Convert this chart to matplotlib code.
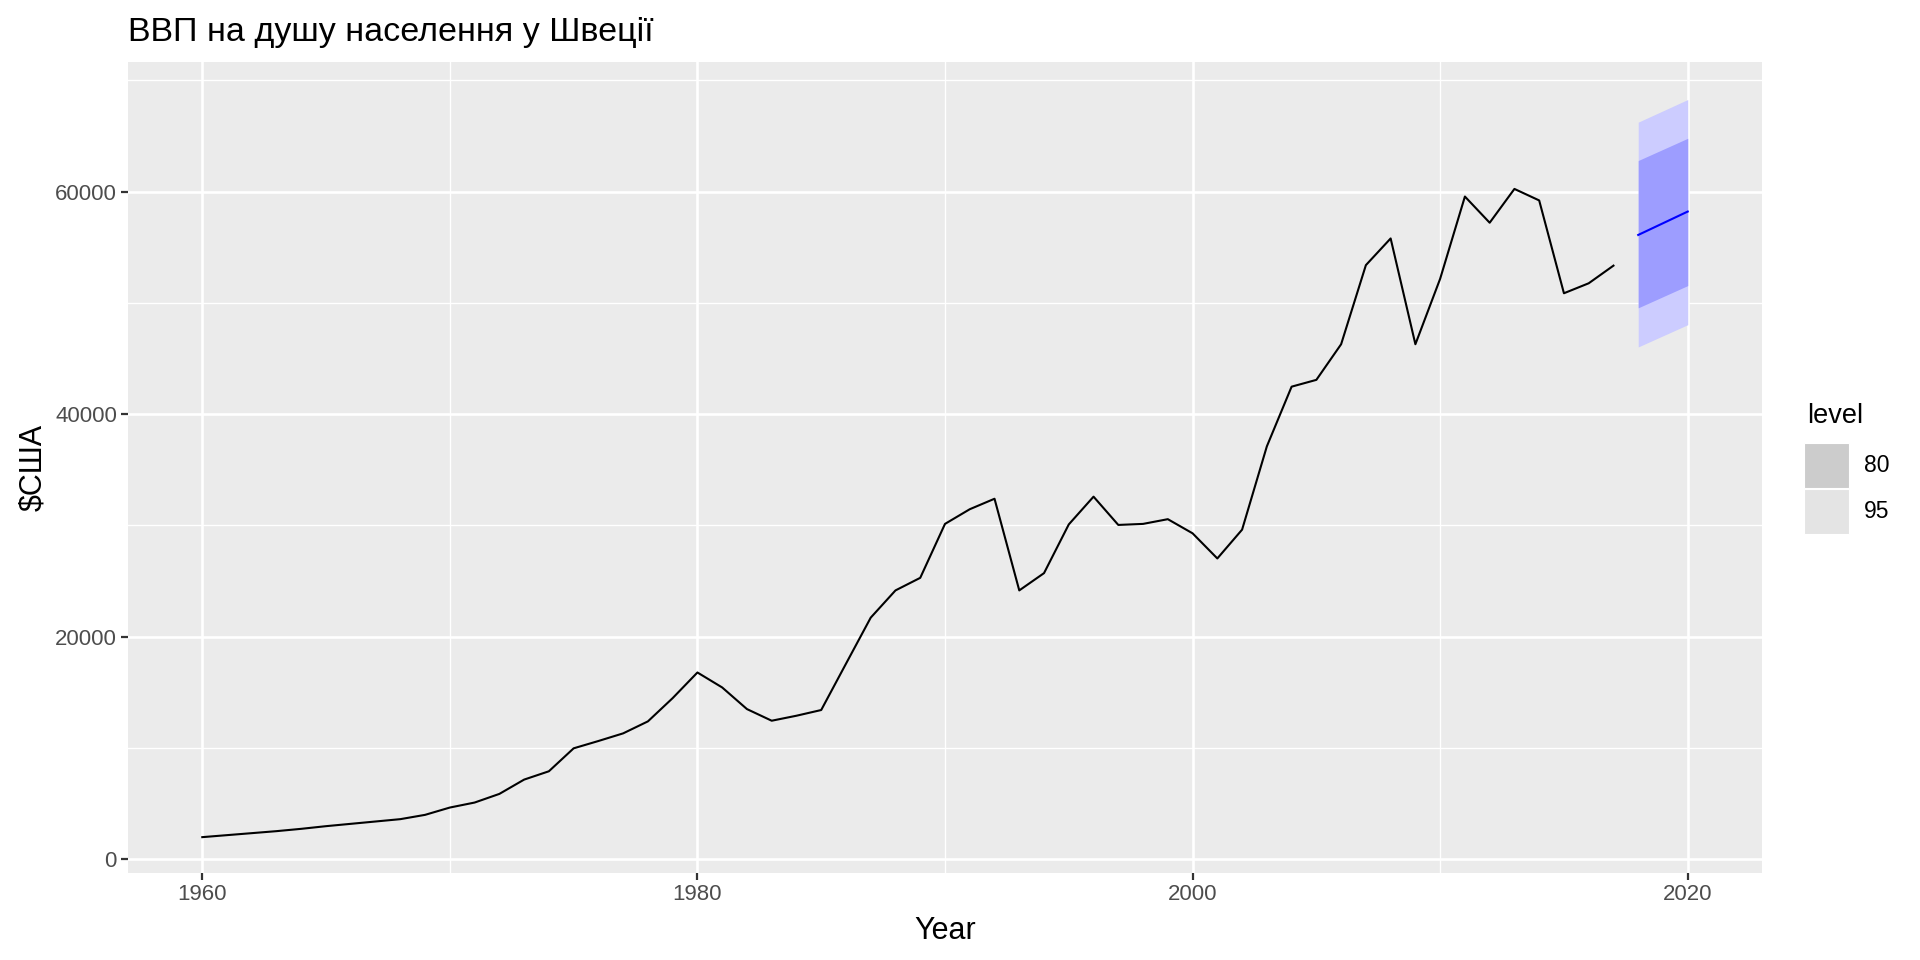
import numpy as np
import matplotlib.pyplot as plt
from matplotlib.patches import Rectangle

plt.rcParams['font.family'] = ['Liberation Sans', 'DejaVu Sans']

# GDP per capita, Sweden
years = np.arange(1960, 2018)
gdp = [1973, 2153, 2332, 2512, 2721, 2960, 3170, 3380, 3590, 3977,
       4634, 5083, 5860, 7146, 7894, 9957, 10615, 11302, 12379, 14471,
       16774, 15428, 13485, 12438, 12887, 13400, 17560, 21704, 24152, 25282,
       30131, 31449, 32391, 24152, 25706, 30084, 32579, 30037, 30131, 30555,
       29284, 27024, 29613, 37099, 42466, 43078, 46280, 53389, 55790, 46280,
       52165, 59556, 57202, 60241, 59207, 50863, 51759, 53345]

# forecast
fc_years = [2018, 2019, 2020]
fc_mean = [56104, 57155, 58207]
lo80 = [49552, 50552, 51552]
hi80 = [62793, 63793, 64793]
lo95 = [46035, 47035, 48035]
hi95 = [66241, 67258, 68276]

levels = ["80", "95"]
key_colors = ["#CCCCCC", "#E4E4E4"]

fig = plt.figure(figsize=(19.2, 9.6), dpi=100)
ax = fig.add_axes([128/1920, 1-873/960, (1762-128)/1920, (873-62)/960])
ax.set_facecolor("#EBEBEB")
for s in ax.spines.values():
    s.set_visible(False)

ax.set_xticks([1960, 1980, 2000, 2020])
ax.set_xticks([1970, 1990, 2010], minor=True)
ax.set_yticks([0, 20000, 40000, 60000])
ax.set_yticks([10000, 30000, 50000, 70000], minor=True)
ax.grid(which="major", color="white", linewidth=1.9)
ax.grid(which="minor", color="white", linewidth=0.95)
ax.set_axisbelow(True)
ax.tick_params(which="major", length=5, width=1.6, color="#333333",
               labelcolor="#4D4D4D", labelsize=16, pad=3)
ax.tick_params(which="minor", length=0)

ax.fill_between(fc_years, lo95, hi95, color="#CCCCFF", linewidth=0, zorder=2)
ax.fill_between(fc_years, lo80, hi80, color="#9D9DFF", linewidth=0, zorder=3)
ax.plot(fc_years, fc_mean, color="#0000FF", linewidth=1.5, zorder=4)
ax.plot(years, gdp, color="black", linewidth=1.5, zorder=4)

ax.set_xlim(1957, 2023)
ax.set_ylim(-1250, 71650)

ax.set_xlabel("Year", fontsize=22, labelpad=8)
ax.set_ylabel("\\$США", fontsize=22, labelpad=5)
fig.text(128/1920, 1-41/960, "ВВП на душу населення у Швеції", fontsize=24.5,
         ha="left", va="baseline")

# legend
fig.text(1807/1920, 1-416/960, "level", fontsize=19.5, ha="left", va="center")
for i, (lab, c) in enumerate(zip(levels, key_colors)):
    y0 = 443 + i*46
    fig.patches.append(Rectangle((1804/1920, 1-(y0+45)/960), 45/1920, 45/960,
                                 transform=fig.transFigure, facecolor=c,
                                 edgecolor="white", linewidth=0.8))
    fig.text(1864/1920, 1-(y0+23)/960, lab, fontsize=16.5, ha="left", va="center")

fig.savefig("out.png", dpi=100)
